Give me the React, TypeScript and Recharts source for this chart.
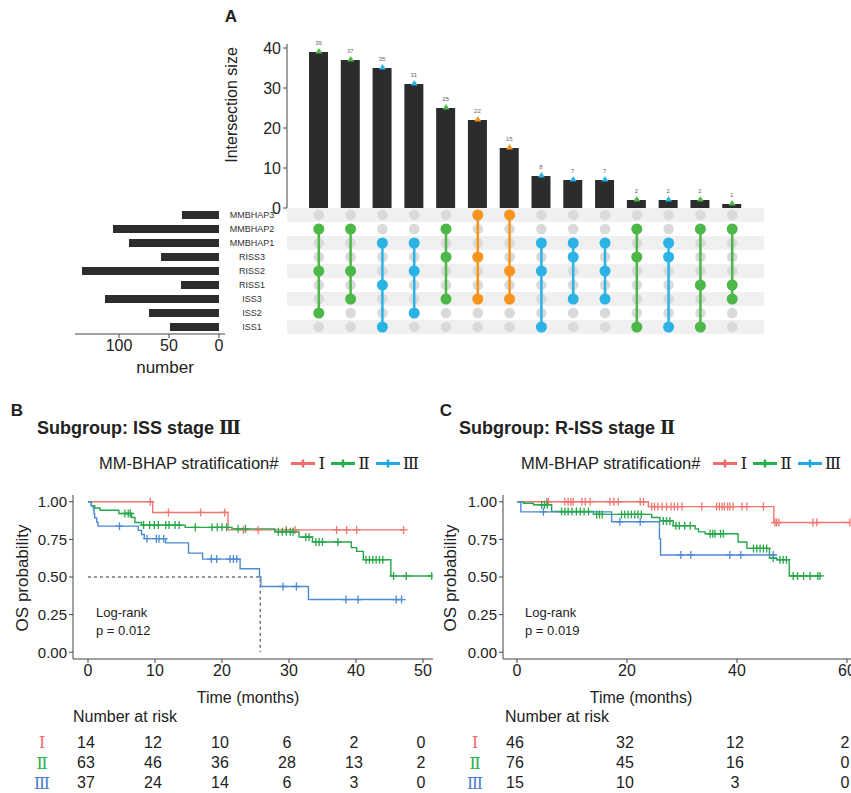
import React from 'react';
import {
  BarChart,
  Bar,
  ComposedChart,
  Line,
  Scatter,
  ScatterChart,
  XAxis,
  YAxis,
  ReferenceArea,
  LabelList,
} from 'recharts';

// ---------- panel A: upset plot ----------
const setNames = ['MMBHAP3', 'MMBHAP2', 'MMBHAP1', 'RISS3', 'RISS2', 'RISS1', 'ISS3', 'ISS2', 'ISS1'];
const setSizes = [37, 106, 90, 58, 137, 38, 114, 70, 49];
const interSizes = [39, 37, 35, 31, 25, 22, 15, 8, 7, 7, 2, 2, 2, 1];
// row indexes (into setNames) that make up each intersection
const interSets = [
  [1, 4, 7], [1, 4, 6], [2, 5, 8], [2, 4, 7], [1, 3, 6], [0, 3, 6], [0, 4, 6],
  [2, 4, 8], [2, 3, 6], [2, 4, 6], [1, 3, 8], [2, 3, 8], [1, 5, 8], [1, 5, 6],
];

// ---------- panel B: ISS stage III ----------
type Pt = [number, number];
const kmB_I: Pt[] = [[0, 1], [9.65, 0.929], [20.9, 0.813], [47.1, 0.813]];
const censB_I = [9.3, 12, 16.8, 20.4, 23.2, 25.4, 29.6, 30.9, 37.1, 38.6, 40.1, 47.1];
const kmB_II: Pt[] = [
  [0, 1], [0.5, 0.974], [1.0, 0.959], [1.8, 0.944], [4.6, 0.922], [6.5, 0.895], [7.0, 0.862],
  [8.0, 0.845], [14.5, 0.83], [21.5, 0.82], [27.9, 0.8], [31.5, 0.766], [33.5, 0.733],
  [39.3, 0.695], [40.1, 0.67], [41.1, 0.615], [45.2, 0.507], [51.3, 0.507],
];
const censB_II = [
  5.5, 6.0, 6.3, 8.3, 9.2, 9.9, 10.5, 11.6, 12.1, 13.0, 13.6, 16.0, 18.5, 19.3, 20.0, 20.7, 22.4,
  23.5, 28.4, 29.0, 29.6, 30.2, 30.6, 32.5, 33.0, 34.0, 34.5, 35.0, 37.3, 41.5, 42.0, 42.5, 43.0,
  43.5, 44.0, 45.6, 47.5, 51.3,
];
const kmB_III: Pt[] = [
  [0, 1], [0.5, 0.973], [0.8, 0.946], [0.9, 0.919], [1.0, 0.892], [1.3, 0.865], [1.5, 0.838],
  [7.5, 0.81], [8.0, 0.782], [8.4, 0.755], [11.6, 0.727], [15.0, 0.659], [17.1, 0.619],
  [22.7, 0.555], [25.6, 0.5], [25.8, 0.437], [32.9, 0.35], [47, 0.35],
];
const censB_III = [4.7, 8.8, 10.2, 10.6, 11.3, 18.4, 19.2, 21.2, 21.7, 22.2, 29.1, 31.1, 38.5, 40.3, 46.0, 46.8];
const medianB: Pt[] = [[0, 0.5], [25.7, 0.5], [25.7, 0]];
const timesB = [0, 10, 20, 30, 40, 50];
const riskB_I = [14, 12, 10, 6, 2, 0];
const riskB_II = [63, 46, 36, 28, 13, 2];
const riskB_III = [37, 24, 14, 6, 3, 0];

// ---------- panel C: R-ISS stage II ----------
const kmC_I: Pt[] = [[0, 1], [23.9, 0.968], [46.7, 0.862], [62, 0.862]];
const censC_I = [
  5.4, 5.7, 8.7, 9.3, 9.8, 10.2, 11.8, 12.4, 13.3, 16.9, 17.6, 18.4, 22.4, 23.0, 24.5, 25.0, 25.6,
  26.4, 27.2, 28.0, 28.6, 29.2, 30.0, 33.6, 36.3, 36.8, 37.3, 37.7, 38.3, 38.7, 39.3, 40.9, 41.8,
  44.8, 46.9, 47.2, 47.6, 53.8, 54.5, 60.5,
];
const kmC_II: Pt[] = [
  [0, 1], [1.2, 0.99], [3.0, 0.98], [6.3, 0.935], [13.9, 0.916], [24.5, 0.895], [26.0, 0.873],
  [28.4, 0.841], [32.4, 0.82], [33.0, 0.8], [34.2, 0.787], [40.2, 0.733], [41.8, 0.69],
  [45.9, 0.626], [47.2, 0.615], [49.5, 0.507], [55.1, 0.507],
];
const censC_II = [
  4.5, 5.0, 5.5, 8.1, 8.7, 9.3, 10.0, 10.8, 11.5, 12.2, 13.0, 14.5, 15.0, 15.5, 19.0, 19.6, 20.2,
  20.8, 21.4, 22.0, 22.6, 26.6, 27.2, 27.8, 28.9, 29.5, 30.5, 31.5, 35.1, 35.6, 36.0, 37.0, 37.5,
  43.0, 43.6, 44.2, 44.8, 45.4, 46.6, 47.8, 48.4, 49.0, 50.2, 51.0, 52.1, 53.3, 54.7, 55.1,
];
const kmC_III: Pt[] = [[0, 1], [0.7, 0.933], [17.2, 0.867], [25.9, 0.754], [26.1, 0.646], [47.2, 0.646]];
const censC_III = [4.8, 18.7, 22.4, 29.8, 31.6, 38.7, 40.7, 46.6];
const timesC = [0, 20, 40, 60];
const riskC_I = [46, 32, 12, 2];
const riskC_II = [76, 45, 16, 0];
const riskC_III = [15, 10, 3, 0];

const groups = ['Ⅰ', 'Ⅱ', 'Ⅲ'];

// ---------- styling ----------
const BAR = '#2b2c2e';
const GREEN = '#4db848';
const BLUE = '#2cb3e6';
const ORANGE = '#f7941d';
const KM_COLORS = ['#f0766e', '#27a64a', '#4d8ad6'];
const LEGEND_COLORS = ['#f26b6b', '#22b14c', '#22a7e6'];
const RISK_COLORS = ['#f07070', '#2db34a', '#4f7fd0'];
const ROMAN_FONT = '"DejaVu Serif", "Noto Sans CJK SC", serif';
const AXIS = '#444';

const colorOf = (rows: number[]) => (rows.includes(0) ? ORANGE : rows.includes(1) ? GREEN : BLUE);

const interData = interSizes.map((v, i) => ({id: i, size: v, color: colorOf(interSets[i])}));
const setData = setNames.map((n, i) => ({name: n, size: setSizes[i]}));
const gridDots = interSets.flatMap((_, c) => setNames.map((__, r) => ({x: c, y: r})));

const toPts = (a: Pt[]) => a.map(([t, s]) => ({t, s}));
const levelAt = (steps: Pt[], t: number) => {
  let s = steps[0][1];
  for (const [tt, ss] of steps) if (tt <= t) s = ss;
  return s;
};

const Txt = ({x, y, size, bold, anchor = 'start', rotate, color = '#222', family, children}: any) => {
  const tx = anchor === 'middle' ? '-50%' : anchor === 'end' ? '-100%' : '0';
  return (
    <div
      style={{
        position: 'absolute',
        left: x,
        top: y,
        fontSize: size,
        fontWeight: bold ? 700 : 400,
        lineHeight: 1,
        whiteSpace: 'nowrap',
        color,
        fontFamily: family,
        transform: `translate(${tx}, -50%)${rotate ? ` rotate(${rotate}deg)` : ''}`,
      }}>
      {children}
    </div>
  );
};

const plus = (color: string) => (p: any) => (
  <path
    d={`M${p.cx - 4},${p.cy}H${p.cx + 4}M${p.cx},${p.cy - 4}V${p.cy + 4}`}
    stroke={color}
    strokeWidth={1.3}
    fill="none"
  />
);

const KMChart = ({left, width, marginRight, xDomain, xTicks, series, median}: any) => (
  <div style={{position: 'absolute', left, top: 485}}>
    <ComposedChart width={width} height={205} margin={{top: 10, right: marginRight, bottom: 1, left: 23}}>
      <XAxis
        type="number"
        dataKey="t"
        domain={xDomain}
        ticks={xTicks}
        interval={0}
        allowDataOverflow
        stroke={AXIS}
        tickSize={4}
        tick={{fontSize: 16, fill: '#222'}}
      />
      <YAxis
        type="number"
        dataKey="s"
        domain={[-0.045, 1.045]}
        ticks={[0, 0.25, 0.5, 0.75, 1]}
        interval={0}
        allowDataOverflow
        width={50}
        stroke={AXIS}
        tickSize={4}
        tickFormatter={(v: number) => v.toFixed(2)}
        tick={{fontSize: 15, fill: '#222'}}
      />
      {median && (
        <Line
          data={toPts(median)}
          dataKey="s"
          type="linear"
          stroke="#333"
          strokeWidth={1}
          strokeDasharray="3 3"
          dot={false}
          isAnimationActive={false}
        />
      )}
      {series.map((sr: any, i: number) => (
        <Line
          key={`l${i}`}
          data={toPts(sr.steps)}
          dataKey="s"
          type="stepAfter"
          stroke={KM_COLORS[i]}
          strokeWidth={1.4}
          dot={false}
          isAnimationActive={false}
        />
      ))}
      {series.map((sr: any, i: number) => (
        <Scatter
          key={`c${i}`}
          data={sr.cens.map((t: number) => ({t, s: levelAt(sr.steps, t)}))}
          dataKey="s"
          shape={plus(KM_COLORS[i])}
          isAnimationActive={false}
        />
      ))}
    </ComposedChart>
  </div>
);

const RiskTable = ({left, width, marginRight, xDomain, times, rows, romanX}: any) => (
  <div style={{position: 'absolute', left, top: 731}}>
    <ScatterChart width={width} height={62} margin={{top: 1, right: marginRight, bottom: 0, left: 23}}>
      <XAxis type="number" dataKey="t" domain={xDomain} hide />
      <YAxis
        type="number"
        dataKey="r"
        domain={[-0.5, 2.5]}
        ticks={[0, 1, 2]}
        interval={0}
        reversed
        width={50}
        axisLine={false}
        tickLine={false}
        tick={(p: any) => (
          <text
            x={romanX}
            y={p.y}
            textAnchor="middle"
            dominantBaseline="central"
            fontSize={17}
            fontFamily={ROMAN_FONT}
            fill={RISK_COLORS[p.payload.value]}>
            {groups[p.payload.value]}
          </text>
        )}
      />
      {rows.map((vals: number[], ri: number) => (
        <Scatter
          key={ri}
          data={vals.map((n, i) => ({t: times[i], r: ri, n}))}
          isAnimationActive={false}
          shape={(p: any) => (
            <text x={p.cx - 2} y={p.cy} textAnchor="middle" dominantBaseline="central" fontSize={16} fill="#222">
              {p.payload.n}
            </text>
          )}
        />
      ))}
    </ScatterChart>
  </div>
);

const KMLegend = ({x, y}: any) => (
  <div
    style={{
      position: 'absolute',
      left: x,
      top: y,
      transform: 'translateY(-50%)',
      display: 'flex',
      alignItems: 'center',
      fontSize: 16.5,
      lineHeight: 1,
      whiteSpace: 'nowrap',
      color: '#222',
    }}>
    <span>MM-BHAP stratification#</span>
    {groups.map((g, i) => (
      <React.Fragment key={g}>
        <svg width={24} height={12} style={{marginLeft: i === 0 ? 13 : 6, marginRight: 3}}>
          <line x1={0} x2={24} y1={6} y2={6} stroke={LEGEND_COLORS[i]} strokeWidth={3} />
          <line x1={12} x2={12} y1={2} y2={10} stroke={LEGEND_COLORS[i]} strokeWidth={2.5} />
        </svg>
        <span style={{fontFamily: ROMAN_FONT, fontSize: 17}}>{g}</span>
      </React.Fragment>
    ))}
  </div>
);

const triangle = (p: any) => (
  <polygon
    points={`${p.cx - 3.5},${p.cy + 1.5} ${p.cx + 3.5},${p.cy + 1.5} ${p.cx},${p.cy - 4}`}
    fill={p.payload.color}
  />
);

const domainB = [-2.24, 51.49];
const domainC = [-2.545, 63.0];

export default function App() {
  return (
    <div
      style={{
        position: 'fixed',
        left: 0,
        top: 0,
        width: 851,
        height: 793,
        overflow: 'hidden',
        background: '#fff',
        fontFamily: '"Liberation Sans", Arial, sans-serif',
        color: '#222',
      }}>
      {/* ---------- A ---------- */}
      <Txt x={231} y={16} size={17} bold anchor="middle">A</Txt>
      <Txt x={232} y={105} size={16} anchor="middle" rotate={-90}>Intersection size</Txt>

      <div style={{position: 'absolute', left: 220, top: 30}}>
        <ComposedChart width={560} height={195} data={interData} margin={{top: 14, right: 16, bottom: 17, left: 12}}>
          <XAxis dataKey="id" type="category" hide padding={{left: 16, right: 16}} />
          <YAxis
            type="number"
            domain={[0, 41]}
            ticks={[0, 10, 20, 30, 40]}
            interval={0}
            width={55}
            stroke={AXIS}
            tickSize={4}
            tick={{fontSize: 16, fill: '#222'}}
          />
          <Bar dataKey="size" fill={BAR} barSize={19} isAnimationActive={false}>
            <LabelList dataKey="size" position="top" offset={7} fontSize={6} fill="#666" />
          </Bar>
          <Scatter dataKey="size" shape={triangle} isAnimationActive={false} />
        </ComposedChart>
      </div>

      <div style={{position: 'absolute', left: 220, top: 206}}>
        <ScatterChart width={560} height={130} margin={{top: 2, right: 16, bottom: 2, left: 0}}>
          <XAxis type="number" dataKey="x" domain={[-1, 14]} hide />
          <YAxis
            type="number"
            dataKey="y"
            domain={[-0.5, 8.5]}
            ticks={setNames.map((_, i) => i)}
            interval={0}
            reversed
            width={67}
            axisLine={false}
            tickLine={false}
            tick={(p: any) => (
              <text x={32} y={p.y} textAnchor="middle" dominantBaseline="central" fontSize={9} fill="#333">
                {setNames[p.payload.value]}
              </text>
            )}
          />
          {setNames.map((_, r) =>
            r % 2 === 0 ? (
              <ReferenceArea key={r} x1={-1} x2={14} y1={r - 0.5} y2={r + 0.5} fill="#f0f0f0" fillOpacity={1} stroke="none" />
            ) : null,
          )}
          <Scatter
            data={gridDots}
            isAnimationActive={false}
            shape={(p: any) => <circle cx={p.cx} cy={p.cy} r={5.3} fill="#dadada" />}
          />
          {interSets.map((rows, c) => {
            const col = colorOf(rows);
            return (
              <Scatter
                key={c}
                data={rows.map((r) => ({x: c, y: r}))}
                line={{stroke: col, strokeWidth: 2.5}}
                isAnimationActive={false}
                shape={(p: any) => <circle cx={p.cx} cy={p.cy} r={5.5} fill={col} />}
              />
            );
          })}
        </ScatterChart>
      </div>

      <div style={{position: 'absolute', left: 60, top: 206}}>
        <BarChart width={170} height={160} data={setData} layout="vertical" margin={{top: 2, right: 5, bottom: 2, left: 15}}>
          <YAxis type="category" dataKey="name" hide />
          <XAxis
            type="number"
            domain={[-6, 144]}
            ticks={[0, 50, 100]}
            interval={0}
            reversed
            height={30}
            stroke={AXIS}
            tickSize={4}
            tick={{fontSize: 16, fill: '#222'}}
          />
          <Bar dataKey="size" fill={BAR} barSize={8} isAnimationActive={false} />
        </BarChart>
      </div>
      <Txt x={165} y={367} size={17} anchor="middle">number</Txt>

      {/* ---------- B ---------- */}
      <Txt x={17} y={410} size={17} bold anchor="middle">B</Txt>
      <Txt x={37} y={428} size={18} bold>
        Subgroup: ISS stage <span style={{fontFamily: ROMAN_FONT}}>Ⅲ</span>
      </Txt>
      <KMLegend x={99} y={463} />
      <Txt x={22} y={578} size={17} anchor="middle" rotate={-90}>OS probability</Txt>
      <KMChart
        left={0}
        width={440}
        marginRight={7}
        xDomain={domainB}
        xTicks={timesB}
        median={medianB}
        series={[
          {steps: kmB_I, cens: censB_I},
          {steps: kmB_II, cens: censB_II},
          {steps: kmB_III, cens: censB_III},
        ]}
      />
      <Txt x={96} y={612} size={13}>Log-rank</Txt>
      <Txt x={96} y={630} size={13}>p = 0.012</Txt>
      <Txt x={248} y={698} size={16} anchor="middle">Time (months)</Txt>
      <Txt x={73} y={717} size={16}>Number at risk</Txt>
      <RiskTable
        left={0}
        width={440}
        marginRight={7}
        xDomain={domainB}
        times={timesB}
        rows={[riskB_I, riskB_II, riskB_III]}
        romanX={42}
      />

      {/* ---------- C ---------- */}
      <Txt x={446} y={410} size={17} bold anchor="middle">C</Txt>
      <Txt x={459} y={428} size={18} bold>
        Subgroup: R-ISS stage <span style={{fontFamily: ROMAN_FONT}}>Ⅱ</span>
      </Txt>
      <KMLegend x={521} y={463} />
      <Txt x={450} y={578} size={17} anchor="middle" rotate={-90}>OS probability</Txt>
      <KMChart
        left={430}
        width={440}
        marginRight={6.5}
        xDomain={domainC}
        xTicks={timesC}
        series={[
          {steps: kmC_I, cens: censC_I},
          {steps: kmC_II, cens: censC_II},
          {steps: kmC_III, cens: censC_III},
        ]}
      />
      <Txt x={525} y={612} size={13}>Log-rank</Txt>
      <Txt x={525} y={630} size={13}>p = 0.019</Txt>
      <Txt x={641} y={698} size={16} anchor="middle">Time (months)</Txt>
      <Txt x={505} y={717} size={16}>Number at risk</Txt>
      <RiskTable
        left={430}
        width={440}
        marginRight={6.5}
        xDomain={domainC}
        times={timesC}
        rows={[riskC_I, riskC_II, riskC_III]}
        romanX={45}
      />
    </div>
  );
}
